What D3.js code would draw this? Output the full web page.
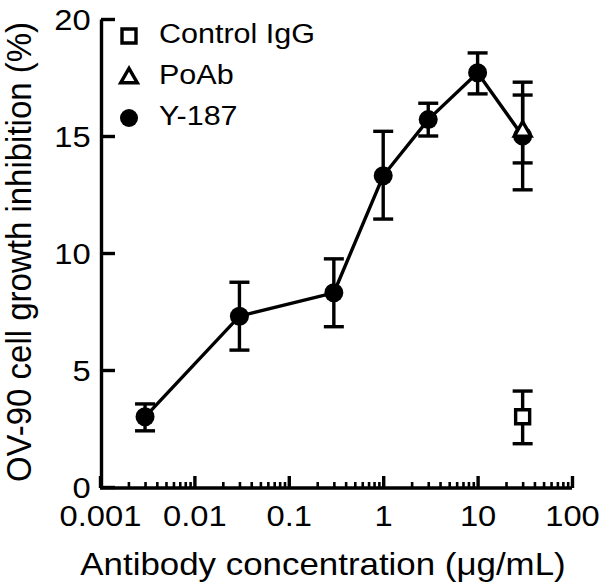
<!DOCTYPE html>
<html>
<head>
<meta charset="utf-8">
<script src="https://d3js.org/d3.v7.min.js"></script>
<style>
  body { margin: 0; background: #fff; }
  svg text { font-family: "Liberation Sans", Arial, Helvetica, sans-serif; fill: #000; }
</style>
</head>
<body>
<svg id="chart" width="600" height="585"></svg>
<script>
// antibody concentration (ug/mL)
const conc = [0.003, 0.03, 0.3, 1, 3, 10, 30];
// Y-187 mean and error bar ends
const y187 = [3.0, 7.3, 8.3, 13.3, 15.7, 17.7, 15.0];
const y187Lo = [2.4, 5.85, 6.85, 11.45, 15.0, 16.8, 13.85];
const y187Hi = [3.55, 8.75, 9.75, 15.2, 16.4, 18.55, 16.75];
// PoAb, single point
const poabConc = [30];
const poab = [15.2];
const poabLo = [12.7];
const poabHi = [17.3];
// Control IgG, single point
const ctrlConc = [30];
const ctrl = [3.0];
const ctrlLo = [1.85];
const ctrlHi = [4.1];

const xTicks = [0.001, 0.01, 0.1, 1, 10, 100];
const xTickLabels = ["0.001", "0.01", "0.1", "1", "10", "100"];
const yTicks = [0, 5, 10, 15, 20];
const legendLabels = ["Control IgG", "PoAb", "Y-187"];

const SX = 1.09; // the picture is a bit wider than tall, text is stretched
const LW = 3.4;
const svg = d3.select("#chart");

const x = d3.scaleLog().domain([0.001, 100]).range([100, 572]);
const y = d3.scaleLinear().domain([0, 20]).range([487, 19]);

// y axis, ticks pointing inside
const yAxis = svg.append("g")
  .attr("transform", "translate(101,0)")
  .call(d3.axisLeft(y).tickValues(yTicks).tickSize(-14).tickSizeOuter(0).tickPadding(9.5));
yAxis.selectAll("path,line").attr("stroke", "#000").attr("stroke-width", LW);
yAxis.selectAll("text")
  .attr("font-size", 30)
  .attr("transform", `scale(${SX},1)`)
  .attr("dy", "0.34em");

// x axis minor ticks
const minor = x.ticks().filter(v => !xTicks.some(t => Math.abs(t - v) < 1e-9));
const xMinor = svg.append("g")
  .attr("transform", "translate(0,488)")
  .call(d3.axisBottom(x).tickValues(minor).tickSize(-6).tickSizeOuter(0).tickFormat(""));
xMinor.select(".domain").remove();
xMinor.selectAll("line").attr("stroke", "#000").attr("stroke-width", 2.6);

// x axis major ticks
const xAxis = svg.append("g")
  .attr("transform", "translate(0,488)")
  .call(d3.axisBottom(x).tickValues(xTicks).tickSize(-12).tickSizeOuter(0).tickPadding(18)
    .tickFormat((d, i) => xTickLabels[i]));
xAxis.selectAll("path,line").attr("stroke", "#000").attr("stroke-width", LW);
xAxis.select(".domain").attr("d", `M${x(0.001)},0H${x(100)}`);
xAxis.selectAll("text")
  .attr("font-size", 30)
  .attr("dy", "0.68em")
  .attr("transform", `scale(${SX},1)`);

// axis titles
svg.append("text")
  .attr("transform", `translate(323,575) scale(${SX},1)`)
  .attr("text-anchor", "middle")
  .attr("font-size", 32)
  .text("Antibody concentration (\u03bcg/mL)");

svg.append("text")
  .attr("transform", `translate(31,252) rotate(-90) scale(1,${SX})`)
  .attr("text-anchor", "middle")
  .attr("font-size", 33)
  .text("OV-90 cell growth inhibition (%)");

// connecting line for Y-187
const pts = conc.map((c, i) => [c, y187[i]]);
svg.append("path")
  .datum(pts)
  .attr("fill", "none")
  .attr("stroke", "#000")
  .attr("stroke-width", LW)
  .attr("d", d3.line().x(d => x(d[0])).y(d => y(d[1])));

// error bars
function errorBars(cs, lo, hi) {
  const g = svg.append("g").attr("stroke", "#000").attr("stroke-width", LW);
  cs.forEach((c, i) => {
    g.append("line").attr("x1", x(c)).attr("x2", x(c)).attr("y1", y(lo[i])).attr("y2", y(hi[i]));
    g.append("line").attr("x1", x(c) - 10).attr("x2", x(c) + 10).attr("y1", y(lo[i])).attr("y2", y(lo[i]));
    g.append("line").attr("x1", x(c) - 10).attr("x2", x(c) + 10).attr("y1", y(hi[i])).attr("y2", y(hi[i]));
  });
}
errorBars(conc, y187Lo, y187Hi);
errorBars(poabConc, poabLo, poabHi);
errorBars(ctrlConc, ctrlLo, ctrlHi);

// markers
svg.append("g").selectAll("circle")
  .data(conc)
  .join("circle")
  .attr("cx", d => x(d))
  .attr("cy", (d, i) => y(y187[i]))
  .attr("r", 9.5)
  .attr("fill", "#000");

const tri = d3.symbol().type(d3.symbolTriangle).size(120);
const sq = d3.symbol().type(d3.symbolSquare).size(196);

svg.append("g").selectAll("path")
  .data(poabConc)
  .join("path")
  .attr("d", tri)
  .attr("transform", (d, i) => `translate(${x(d)},${y(poab[i])})`)
  .attr("fill", "#fff").attr("stroke", "#000").attr("stroke-width", LW);

svg.append("g").selectAll("path")
  .data(ctrlConc)
  .join("path")
  .attr("d", sq)
  .attr("transform", (d, i) => `translate(${x(d)},${y(ctrl[i])})`)
  .attr("fill", "#fff").attr("stroke", "#000").attr("stroke-width", LW);

// legend
const leg = svg.append("g").attr("transform", "translate(129,36)");
const legRows = leg.selectAll("g").data(legendLabels).join("g")
  .attr("transform", (d, i) => `translate(0,${i * 41})`);
legRows.each(function(d, i) {
  const r = d3.select(this);
  if (i === 0) {
    r.append("path").attr("d", sq).attr("fill", "#fff").attr("stroke", "#000").attr("stroke-width", LW);
  } else if (i === 1) {
    r.append("path").attr("d", tri).attr("transform", "translate(0,1)")
      .attr("fill", "#fff").attr("stroke", "#000").attr("stroke-width", LW);
  } else {
    r.append("circle").attr("r", 9).attr("fill", "#000");
  }
  r.append("text")
    .attr("transform", `translate(30,7) scale(${SX},1)`)
    .attr("font-size", 28)
    .text(d);
});
</script>
</body>
</html>
